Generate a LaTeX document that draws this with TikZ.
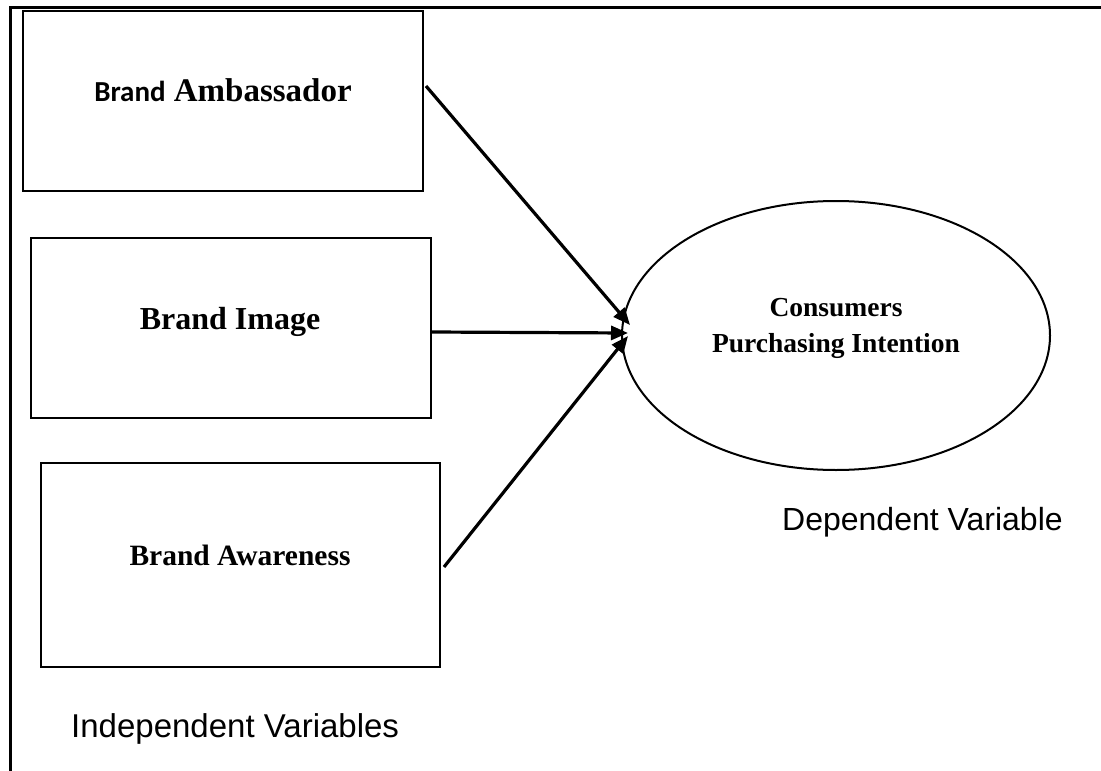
\documentclass[tikz,border=0pt]{standalone}
\usepackage{fontspec}
\setmainfont{Liberation Serif}
\newfontfamily\tnr{Liberation Serif}
\newfontfamily\carl{Carlito}
\newfontfamily\arialf{Liberation Sans}
\usetikzlibrary{arrows.meta,shapes.geometric,calc}
\begin{document}
\begin{tikzpicture}[x=1pt,y=-1pt,
  varbox/.style={draw,line width=2pt,minimum width=400pt,minimum height=180pt,inner sep=0pt},
  boxtext/.style={anchor=base,inner sep=0pt,font=\tnr\bfseries},
  caption/.style={anchor=base west,inner sep=0pt,font=\arialf\fontsize{32}{38}\selectfont},
  conn/.style={line width=3.2pt,-{Triangle[length=17pt,width=14pt]}}]
\useasboundingbox (0,0) rectangle (1101,771);
% outer frame (top and left only)
\draw[line width=3pt] (10,771) -- (10,7) -- (1101,7);
% boxes
\node[varbox] (ba) at (223,101) {};
\node[varbox] (bi) at (231,328) {};
\node[varbox,minimum width=399pt,minimum height=204pt] (bw) at (240.5,565) {};
\node[boxtext] (tba) at (223,101) {\fontsize{33}{38}\selectfont{\carl\fontsize{29}{34}\selectfont Brand} Ambassador};
\node[boxtext] (tbi) at (230,329) {\fontsize{32}{38}\selectfont Brand Image};
\node[boxtext] (tbw) at (240,565) {\fontsize{29.5}{35}\selectfont Brand Awareness};
% ellipse
\node[draw,ellipse,line width=2pt,minimum width=428pt,minimum height=269pt,inner sep=0pt] (cpi) at (836,335.5) {};
\node[boxtext] (tc1) at (836,316) {\fontsize{27.5}{33}\selectfont Consumers};
\node[boxtext] (tc2) at (836,352) {\fontsize{27.5}{33}\selectfont Purchasing Intention};
% captions
\node[caption] (dep) at (782,530) {Dependent Variable};
\node[caption,font=\arialf\fontsize{33}{38}\selectfont] (ind) at (71,737) {Independent Variables};
% connector ends
\coordinate (s1) at ($(ba.north east)+(2,76)$);
\coordinate (s2) at ($(bi.north east)+(0,95)$);
\coordinate (s3) at ($(bw.north east)+(3,105)$);
\coordinate (t1) at (630,325);
\coordinate (t2) at (628,333);
\coordinate (t3) at (628,336);
\draw[conn] (s1) -- (t1);
\draw[conn] (s2) -- (t2);
\draw[conn] (s3) -- (t3);
\end{tikzpicture}
\end{document}
